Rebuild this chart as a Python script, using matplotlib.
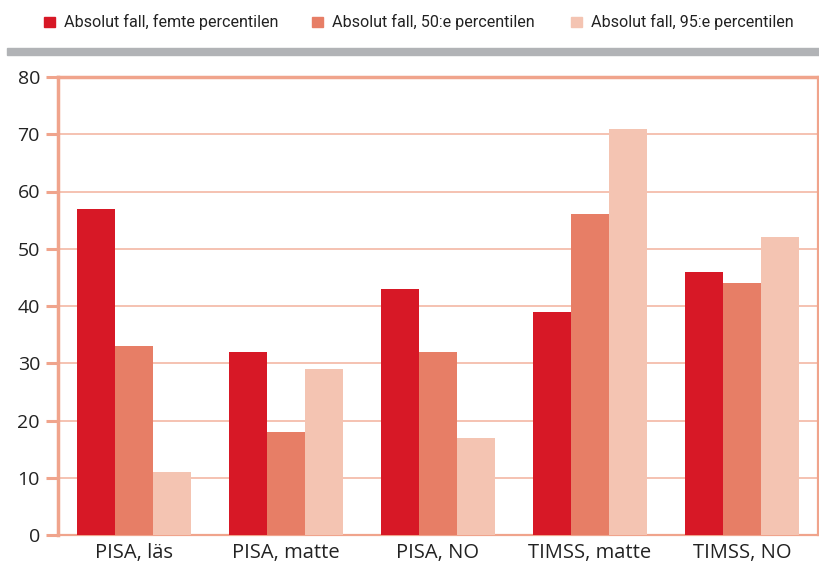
import numpy as np
import matplotlib.pyplot as plt
from matplotlib.patches import Rectangle

categories = ['PISA, läs', 'PISA, matte', 'PISA, NO', 'TIMSS, matte', 'TIMSS, NO']
series_names = ['Absolut fall, femte percentilen',
                'Absolut fall, 50:e percentilen',
                'Absolut fall, 95:e percentilen']
p5 = [57, 32, 43, 39, 46]
p50 = [33, 18, 32, 56, 44]
p95 = [11, 29, 17, 71, 52]
yticks = [0, 10, 20, 30, 40, 50, 60, 70, 80]

colors = ['#D71826', '#E77E66', '#F4C4B2']
frame = '#F0A48C'
grid = '#F4B8A4'


def main():
    fig = plt.figure(figsize=(8.19, 5.66), dpi=100)
    ax = fig.add_axes([58 / 819, 31 / 566, 760 / 819, 458 / 566])

    x = np.arange(len(categories))
    w = 0.25
    for i, vals in enumerate([p5, p50, p95]):
        ax.bar(x + (i - 1) * w, vals, width=w, color=colors[i], zorder=3)

    ax.set_xlim(-0.5, len(categories) - 0.5)
    ax.set_ylim(0, 80)
    ax.set_yticks(yticks)
    ax.set_yticklabels([str(t) for t in yticks], family=['Open Sans', 'DejaVu Sans'],
                       fontsize=14, color='#222222')
    ax.set_xticks(x)
    ax.set_xticklabels(categories, family=['Open Sans', 'DejaVu Sans'],
                       fontsize=14.5, color='#222222')
    ax.tick_params(axis='x', length=0, pad=6)
    ax.tick_params(axis='y', length=9, width=2.2, color=frame, pad=4)
    ax.yaxis.grid(True, color=grid, linewidth=1.2, zorder=0)
    ax.set_axisbelow(True)
    for s in ['left', 'top']:
        ax.spines[s].set_color(frame)
        ax.spines[s].set_linewidth(2.5)
    for s in ['right', 'bottom']:
        ax.spines[s].set_color(frame)
        ax.spines[s].set_linewidth(1.6)

    # grey rule above the plot
    fig.patches.append(Rectangle((7 / 819, 1 - 55 / 566), 812 / 819, 7 / 566,
                                 transform=fig.transFigure, color='#B1B3B6'))

    # legend
    lx = [44, 312, 571]
    for i, name in enumerate(series_names):
        fig.patches.append(Rectangle((lx[i] / 819, 1 - 27 / 566), 11 / 819, 10 / 566,
                                     transform=fig.transFigure, color=colors[i]))
        fig.text((lx[i] + 20) / 819, 1 - 22 / 566, name, va='center', ha='left',
                 fontsize=11.6, color='#222222',
                 family=['Roboto', 'DejaVu Sans'])

    plt.savefig('out.png', dpi=100)


if __name__ == '__main__':
    main()
